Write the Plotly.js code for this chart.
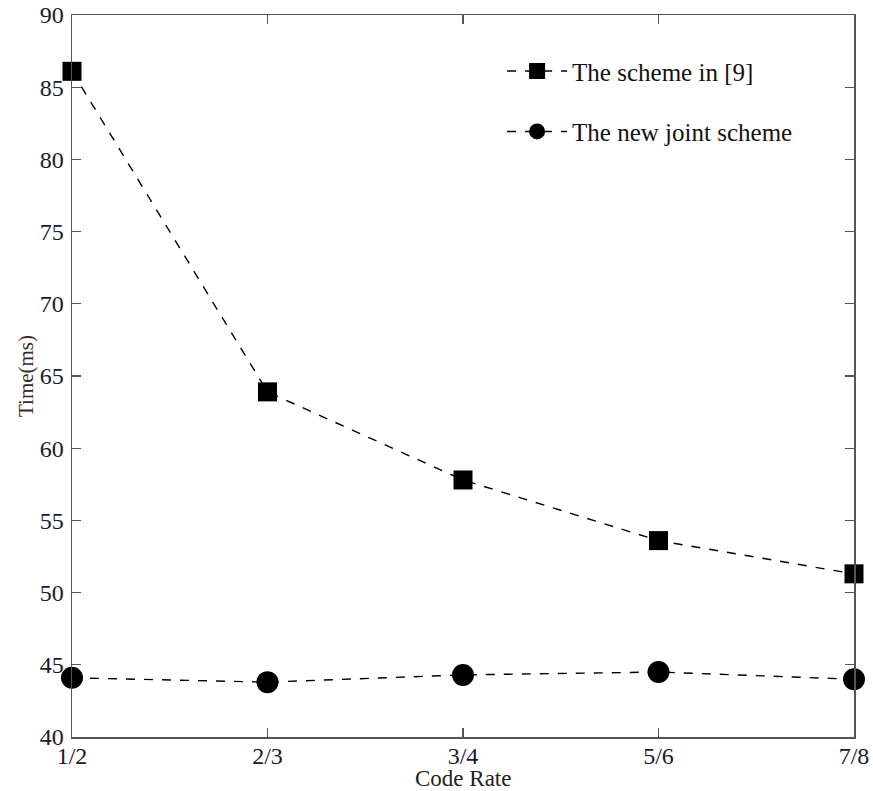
<!DOCTYPE html>
<html>
<head>
<meta charset="utf-8">
<script src="https://cdn.plot.ly/plotly-3.0.1.min.js"></script>
<style>html,body{margin:0;padding:0;background:#fff;}#chart{width:873px;height:791px;}</style>
</head>
<body>
<div id="chart"></div>
<script>
const codeRates = ["1/2", "2/3", "3/4", "5/6", "7/8"];
const schemeIn9 = [86.1, 63.9, 57.8, 53.6, 51.3];
const newJointScheme = [44.1, 43.8, 44.3, 44.5, 44.0];
const yTicks = [40, 45, 50, 55, 60, 65, 70, 75, 80, 85, 90];
const seriesNames = ["The scheme in [9]", "The new joint scheme"];
const xTitle = "Code Rate";
const yTitle = "Time(ms)";

const font = "Liberation Serif, Times New Roman, serif";

const traces = [
  {
    x: codeRates, y: schemeIn9, name: seriesNames[0], type: "scatter", mode: "lines+markers",
    line: {color: "#000", width: 1.4, dash: "dash"},
    marker: {symbol: "square", size: 19, color: "#000"},
    cliponaxis: false, legendgroup: "a"
  },
  {
    x: codeRates, y: newJointScheme, name: seriesNames[1], type: "scatter", mode: "lines+markers",
    line: {color: "#000", width: 1.4, dash: "dash"},
    marker: {symbol: "circle", size: 22, color: "#000"},
    cliponaxis: false, legendgroup: "b"
  }
];

const axisCommon = {
  showline: true, linecolor: "#555", linewidth: 1.5, mirror: "ticks",
  ticks: "inside", ticklen: 9, tickcolor: "#555", tickwidth: 1.2,
  showgrid: false, zeroline: false,
  tickfont: {family: font, size: 24, color: "#1a1a2e"}
};

const layout = {
  width: 873, height: 791,
  margin: {l: 72, r: 19, t: 15, b: 54},
  paper_bgcolor: "#fff", plot_bgcolor: "#fff",
  showlegend: true,
  legend: {
    x: 0.55, y: 0.954, xanchor: "left", yanchor: "top",
    font: {family: font, size: 25, color: "#111"},
    bgcolor: "rgba(0,0,0,0)", borderwidth: 0,
    tracegroupgap: 25, itemwidth: 60
  },
  xaxis: Object.assign({}, axisCommon, {
    type: "category", range: [0, 4],
    tickvals: codeRates, ticktext: codeRates, ticklabelstandoff: -3
  }),
  yaxis: Object.assign({}, axisCommon, {
    range: [40, 90], tickvals: yTicks, ticklabelstandoff: 2,
    title: {text: yTitle, font: {family: font, size: 21, color: "#3a2a2a"}, standoff: 0}
  }),
  annotations: [{
    text: xTitle, xref: "paper", yref: "paper", x: 0.5, y: -0.058,
    xanchor: "center", yanchor: "middle", showarrow: false,
    font: {family: font, size: 23, color: "#222"}
  }]
};

Plotly.newPlot("chart", traces, layout, {displayModeBar: false, staticPlot: true});
</script>
</body>
</html>
